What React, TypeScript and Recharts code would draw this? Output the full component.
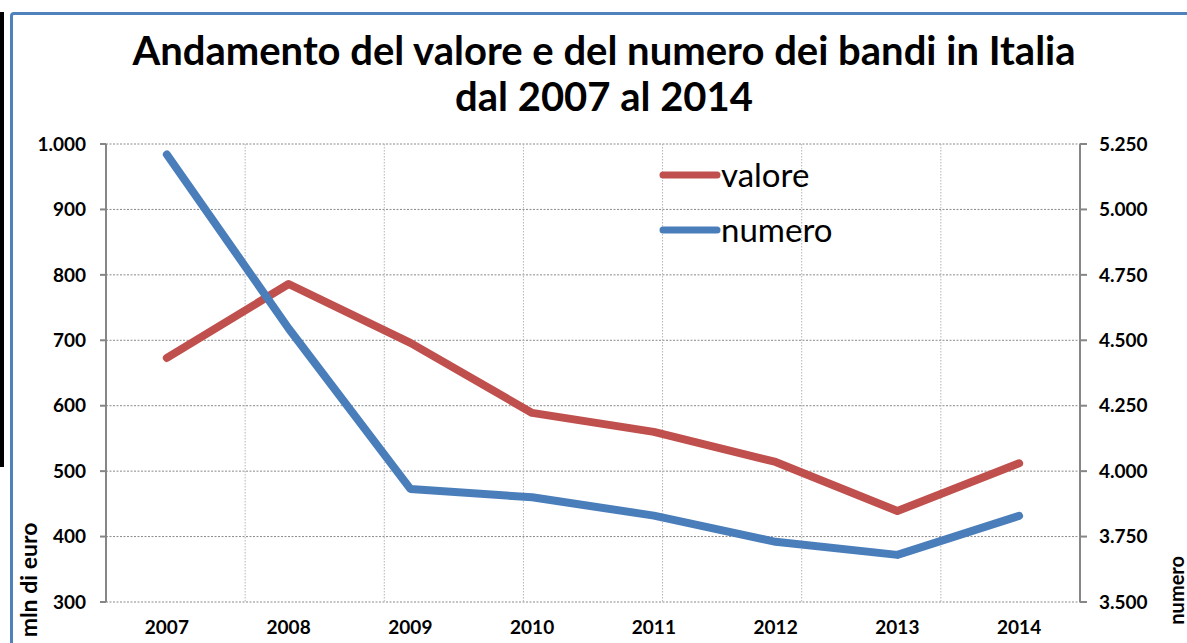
import {
	CartesianGrid,
	Legend,
	Line,
	LineChart,
	XAxis,
	YAxis,
} from "recharts"

const FONT = "Lato, 'Liberation Sans', sans-serif"

const years = ["2007", "2008", "2009", "2010", "2011", "2012", "2013", "2014"]
const valore = [673, 786, 696, 589, 560, 514, 439, 512]
const numero = [5210, 4545, 3932, 3900, 3830, 3730, 3680, 3829]
const seriesOrder = ["valore", "numero"]

const valoreTicks = [300, 400, 500, 600, 700, 800, 900, 1000]
const numeroTicks = [3500, 3750, 4000, 4250, 4500, 4750, 5000, 5250]
// band boundaries for the vertical gridlines / tick marks
const bandEdges = [0, 1, 2, 3, 4, 5, 6, 7, 8]

const data = years.map((year, i) => ({
	year,
	valore: valore[i],
	numero: numero[i],
}))

const fmt = (v: number) => String(v).replace(/\B(?=(\d{3})+(?!\d))/g, ".")

const tickStyle = { fill: "#000", fontSize: 19, fontWeight: 700, fontFamily: FONT }
const axisStroke = { stroke: "#868686", strokeWidth: 2 }

const LegendContent = ({ payload }: any) => {
	const items = [...(payload ?? [])].sort(
		(a: any, b: any) => seriesOrder.indexOf(a.value) - seriesOrder.indexOf(b.value)
	)
	return (
		<div>
			{items.map((entry: any) => (
				<div
					key={entry.value}
					style={{ display: "flex", alignItems: "center", height: 55 }}
				>
					<svg width={62} height={12}>
						<line
							x1={4}
							y1={6}
							x2={58}
							y2={6}
							stroke={entry.color}
							strokeWidth={7}
							strokeLinecap="round"
						/>
					</svg>
					<span style={{ fontSize: 33, fontFamily: FONT, color: "#000", lineHeight: 1 }}>
						{entry.value}
					</span>
				</div>
			))}
		</div>
	)
}

const App = () => (
	<div style={{ position: "relative", width: 1187, height: 643, overflow: "hidden", background: "#fff" }}>
		<style>{"body{margin:0}"}</style>
		<LineChart
			width={1187}
			height={643}
			data={data}
			margin={{ top: 144, right: 0, bottom: 0, left: 0 }}
		>
			<XAxis
				xAxisId="grid"
				type="number"
				domain={[0, 8]}
				ticks={bandEdges}
				height={0}
				axisLine={axisStroke}
				tickLine={axisStroke}
				tickSize={7}
				tickFormatter={() => ""}
			/>
			<XAxis
				xAxisId="cat"
				dataKey="year"
				scale="band"
				height={41}
				axisLine={false}
				tickLine={false}
				tickSize={6}
				tickMargin={13}
				tick={tickStyle}
			/>
			<YAxis
				yAxisId="left"
				width={106}
				domain={[300, 1000]}
				ticks={valoreTicks}
				tickFormatter={fmt}
				axisLine={axisStroke}
				tickLine={axisStroke}
				tickSize={6}
				tickMargin={14}
				tick={tickStyle}
			/>
			<YAxis
				yAxisId="right"
				orientation="right"
				width={107}
				domain={[3500, 5250]}
				ticks={numeroTicks}
				tickFormatter={fmt}
				axisLine={axisStroke}
				tickLine={axisStroke}
				tickSize={7}
				tickMargin={12}
				tick={{ ...tickStyle, textAnchor: "start" }}
			/>
			<CartesianGrid
				xAxisId="grid"
				yAxisId="left"
				vertical={false}
				stroke="#8a8a8a"
				strokeDasharray="2 1.5"
			/>
			<CartesianGrid
				xAxisId="grid"
				yAxisId="left"
				horizontal={false}
				stroke="#b5b5b5"
				strokeDasharray="1.5 1.5"
			/>
			<Legend
				layout="vertical"
				align="center"
				verticalAlign="middle"
				content={LegendContent}
				wrapperStyle={{ top: 147, left: 659, width: 220 }}
			/>
			<Line
				xAxisId="cat"
				yAxisId="left"
				type="linear"
				dataKey="valore"
				name="valore"
				stroke="#C0504D"
				strokeWidth={8}
				strokeLinecap="round"
				strokeLinejoin="round"
				dot={false}
				activeDot={false}
				isAnimationActive={false}
			/>
			<Line
				xAxisId="cat"
				yAxisId="right"
				type="linear"
				dataKey="numero"
				name="numero"
				stroke="#4A7EBB"
				strokeWidth={8}
				strokeLinecap="round"
				strokeLinejoin="round"
				dot={false}
				activeDot={false}
				isAnimationActive={false}
			/>
		</LineChart>
		<svg
			width={1187}
			height={643}
			style={{ position: "absolute", left: 0, top: 0, pointerEvents: "none" }}
		>
			<rect x={0} y={12} width={4} height={455} fill="#000" />
			<path d="M11.5 643 V16 Q11.5 13.5 14 13.5 H1187" fill="none" stroke="#4F81BD" strokeWidth={3} />
			<g fontFamily={FONT} fontWeight={700} fill="#000">
				<text x={604} y={65} fontSize={40} textAnchor="middle">
					Andamento del valore e del numero dei bandi in Italia
				</text>
				<text x={604} y={111} fontSize={40} textAnchor="middle">
					dal 2007 al 2014
				</text>
				<text transform="translate(37 580) rotate(-90)" fontSize={23} textAnchor="middle">
					mln di euro
				</text>
				<text transform="translate(1184 556) rotate(-90)" fontSize={20} textAnchor="end">
					numero
				</text>
			</g>
		</svg>
	</div>
)

export default App
